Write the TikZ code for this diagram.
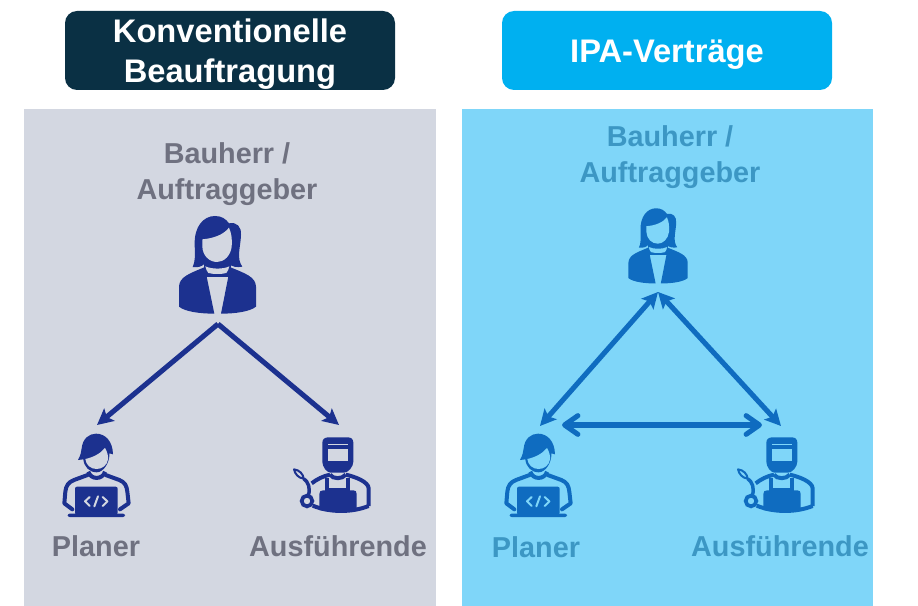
\documentclass[tikz,border=0pt]{standalone}
\usepackage{fontspec}
\setmainfont{Liberation Sans}
\usetikzlibrary{arrows.meta}
\definecolor{titledark}{HTML}{0A3044}
\definecolor{titleblue}{HTML}{00B0F0}
\definecolor{panelgray}{HTML}{D3D7E1}
\definecolor{panelblue}{HTML}{7FD6F9}
\definecolor{navyink}{HTML}{1C318F}
\definecolor{blueink}{HTML}{0F6CC0}
\definecolor{graytext}{HTML}{6F7180}
\definecolor{bluetext}{HTML}{3C97C4}
\tikzset{
  titletext/.style={inner sep=0pt,text=white,font=\bfseries\fontsize{24.5}{30}\selectfont,align=center},
  lab/.style={text=#1,font=\bfseries\fontsize{21.6}{27}\selectfont,align=center,inner sep=0pt},
  link/.style={draw=#1,line width=3.8pt},
  onetip/.style={-{Stealth[length=12pt,width=12pt,inset=2.5pt]}},
  twotip/.style={{Stealth[length=12pt,width=12pt,inset=2.5pt]}-{Stealth[length=12pt,width=12pt,inset=2.5pt]}},
  barbtip/.style={{Straight Barb[length=10pt,width=14pt,round]}-{Straight Barb[length=10pt,width=14pt,round]}},
  pics/woman/.style 2 args={code={
    \fill[#1] (98,186) .. controls (106,170) and (105,150) .. (104,120)
      .. controls (102,65) and (130,33) .. (165,33)
      .. controls (185,33) and (198,42) .. (207,55)
      .. controls (230,50) and (245,65) .. (243,90)
      .. controls (242,125) and (228,160) .. (247,185)
      .. controls (232,188) and (215,186) .. (205,175) -- (135,175)
      .. controls (125,186) and (112,188) .. (98,186) -- cycle;
    \fill[#1] (132,170) rectangle (212,216);
    \fill[#2] (127,103) .. controls (160,100) and (190,90) .. (207,68)
      .. controls (214,85) and (217,100) .. (215,125)
      .. controls (212,152) and (192,171) .. (171,171)
      .. controls (148,171) and (128,152) .. (127,125) -- cycle;
    \fill[#1] (57,305) -- (57,245) .. controls (58,215) and (90,205) .. (135,186)
      -- (140,215) -- (163,326)
      .. controls (120,326) and (75,320) .. (57,305) -- cycle;
    \fill[#1] (288,305) -- (288,245) .. controls (287,215) and (255,205) .. (209,186)
      -- (205,215) -- (183,326)
      .. controls (225,326) and (270,320) .. (288,305) -- cycle;
    \fill[#2] (136,184) .. controls (155,193) and (190,193) .. (208,184)
      .. controls (206,192) and (204,198) .. (199,204)
      .. controls (185,208) and (160,208) .. (145,204)
      .. controls (140,198) and (138,192) .. (136,184) -- cycle;
  }},
  pics/planner/.style 2 args={code={
    \fill[#1] (84,120) .. controls (92,105) and (94,95) .. (95,85)
      .. controls (98,55) and (118,41) .. (138,41)
      .. controls (165,41) and (188,62) .. (189,103) -- (178,100)
      .. controls (180,125) and (162,157) .. (140,157)
      .. controls (118,157) and (102,140) .. (100,118) -- cycle;
    \fill[#2] (106,117) .. controls (130,112) and (152,100) .. (165,84)
      .. controls (172,95) and (175,108) .. (174,118)
      .. controls (172,135) and (157,147) .. (140,147)
      .. controls (122,147) and (108,135) .. (106,117) -- cycle;
    \draw[#1,line width=3pt,line cap=round,line join=round] (113,165) -- (72,180) .. controls (55,187) and (48,197) .. (46,215) -- (43,250) -- (67,268);
    \draw[#1,line width=3pt,line cap=round,line join=round] (167,165) -- (208,180) .. controls (225,187) and (230,197) .. (232,215) -- (236,250) -- (210,268);
    \draw[#1,line width=3pt] (115,155) .. controls (122,180) and (158,180) .. (165,155);
    \fill[#1,rounded corners=1.5pt] (75,200) rectangle (203,284);
    \fill[#1,rounded corners=1.5pt] (53,281) rectangle (225,291);
    \draw[#2,line width=1.5pt,line cap=round,line join=round] (119,231) -- (105,244) -- (119,258);
    \draw[#2,line width=1.5pt,line cap=round,line join=round] (158,231) -- (172,244) -- (158,258);
    \draw[#2,line width=1.5pt,line cap=round] (144,229) -- (133,259);
  }},
  pics/worker/.style 2 args={code={
    \fill[#1] (127,68) .. controls (127,57) and (135,52) .. (145,52) -- (203,52)
      .. controls (213,52) and (220,57) .. (220,68) -- (220,125)
      .. controls (220,140) and (205,158) .. (192,158) -- (152,158)
      .. controls (140,158) and (127,140) .. (127,125) -- cycle;
    \fill[#2] (144,87) rectangle (203,122);
    \draw[#2,line width=1pt] (144,73) -- (203,73);
    \draw[#1,line width=3pt] (95,190) .. controls (110,178) and (130,168) .. (150,164);
    \draw[#1,line width=3pt] (197,164) .. controls (225,170) and (265,185) .. (266,205) -- (266,258);
    \draw[#1,line width=3pt] (150,164) .. controls (158,178) and (188,178) .. (197,164);
    \draw[#1,line width=2.8pt] (142,175) -- (142,215) (205,175) -- (205,215) (142,209) -- (205,209);
    \fill[#1] (118,222) .. controls (118,214) and (122,211) .. (130,211) -- (220,211)
      .. controls (227,211) and (230,214) .. (230,222) -- (230,270) .. controls (200,278) and (150,278) .. (118,270) -- cycle;
    \draw[#1,line width=3pt] (98,257) .. controls (150,278) and (215,278) .. (266,258);
    \draw[#1,line width=1.5pt,line join=round] (42,148) .. controls (58,150) and (70,162) .. (71,176) .. controls (55,174) and (45,162) .. (42,148) -- cycle;
    \draw[#1,line width=2.6pt] (71,176) .. controls (85,185) and (92,205) .. (85,226);
    \draw[#1,line width=2.8pt] (81,243) circle[radius=16];
  }},
}
\begin{document}
\begin{tikzpicture}[x=.75pt,y=-.75pt]
\useasboundingbox (0,0) rectangle (918,606);
\fill[panelgray] (24,109) rectangle (436,606);
\fill[panelblue] (462,109) rectangle (873,606);
\fill[titledark,rounded corners=9pt] (65,11) rectangle (395,90);
\fill[titleblue,rounded corners=9pt] (502,11) rectangle (832,90);
\node[titletext] (tl) at (230,54) {Konventionelle\\Beauftragung};
\node[titletext] (tr) at (667,54.5) {IPA-Verträge};
\node[lab=graytext] (bl) at (227,174) {Bauherr /\\Auftraggeber};
\node[lab=graytext] (pl) at (96,546) {Planer};
\node[lab=graytext] (al) at (338,546) {Ausführende};
\node[lab=bluetext] (br) at (670,157.5) {Bauherr /\\Auftraggeber};
\node[lab=bluetext] (pr) at (536,547) {Planer};
\node[lab=bluetext] (ar) at (780,546) {Ausführende};
\pic[scale=1/3] at (160,205) {woman={navyink}{panelgray}};
\pic[scale=1/3] at (50,420) {planner={navyink}{panelgray}};
\pic[scale=1/3] at (280,420) {worker={navyink}{panelgray}};
\pic[scale=.2567] at (613.8,199.8) {woman={blueink}{panelblue}};
\pic[scale=1/3] at (492,420) {planner={blueink}{panelblue}};
\pic[scale=1/3] at (724,420) {worker={blueink}{panelblue}};
\coordinate (ls) at (218,324);
\coordinate (lp) at (97,425);
\coordinate (lw) at (339,425);
\coordinate (rs) at (658,292);
\coordinate (rp) at (540,426);
\coordinate (rw) at (781,426);
\coordinate (rpm) at (562,425);
\coordinate (rwm) at (762,425);
\draw[link=navyink,onetip] (ls) -- (lp);
\draw[link=navyink,onetip] (ls) -- (lw);
\draw[link=blueink,twotip] (rs) -- (rp);
\draw[link=blueink,twotip] (rs) -- (rw);
\draw[link=blueink,barbtip] (rpm) -- (rwm);
\end{tikzpicture}
\end{document}
